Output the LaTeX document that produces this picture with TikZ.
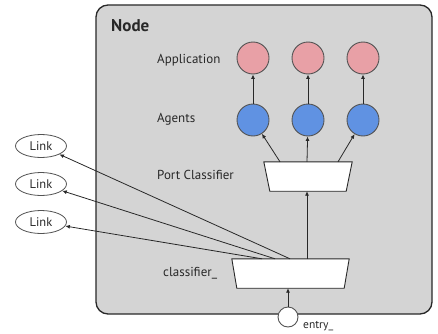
\documentclass[tikz,border=0pt]{standalone}
\usepackage{fontspec}
\setmainfont{PT Sans}
\usetikzlibrary{arrows.meta,shapes.geometric}
\definecolor{panelgray}{RGB}{212,212,212}
\definecolor{appred}{RGB}{232,160,166}
\definecolor{agentblue}{RGB}{96,146,226}
\definecolor{ink}{RGB}{40,40,40}
\tikzset{
  lbl/.style={font=\fontsize{13}{15}\selectfont, text=ink, anchor=west, inner sep=0pt},
  appnode/.style={circle, draw=ink!80, line width=0.9pt, fill=appred, minimum size=32pt, inner sep=0pt},
  agentnode/.style={circle, draw=ink!80, line width=0.9pt, fill=agentblue, minimum size=32pt, inner sep=0pt},
  classframe/.style={rectangle, inner sep=0pt, minimum height=29pt},
  classshape/.style={draw=ink, line width=0.9pt, fill=white},
  linknode/.style={ellipse, draw=ink!80, line width=0.8pt, fill=white, minimum width=51pt, minimum height=23pt, inner sep=0pt, font=\fontsize{12.5}{14}\selectfont, text=ink},
  conn/.style={draw=ink, line width=0.8pt, -{Latex[length=4.5pt,width=4pt]}}
}
\begin{document}
\begin{tikzpicture}[x=1pt,y=1pt]
\useasboundingbox (0,0) rectangle (438,333);
% node enclosure
\node[draw=ink, line width=1.3pt, fill=panelgray, rounded corners=12pt, minimum width=336pt, minimum height=309pt, inner sep=0pt] (panel) at (264,173.5) {};
\node[lbl, font=\bfseries\fontsize{17}{19}\selectfont] (title) at (111,307) {Node};

% row labels
\node[lbl] (lapp) at (157,273) {Application};
\node[lbl] (lagt) at (157,214) {Agents};
\node[lbl] (lport) at (157,158) {Port Classifier};
\node[lbl] (lcls) at (163,60) {classifier\_};

% applications and agents
\foreach \i/\x in {1/253,2/308,3/363}{
  \node[appnode] (app\i) at (\x,275) {};
  \node[agentnode] (agt\i) at (\x,213) {};
  \draw[conn] (agt\i) -- (app\i);
}

% classifiers: wide side up
\node[classframe, minimum width=88pt] (pc) at (308,156.5) {};
\draw[classshape] (pc.north west) -- (pc.north east) -- ([xshift=-6pt]pc.south east) -- ([xshift=6pt]pc.south west) -- cycle;
\node[classframe, minimum width=117pt] (cls) at (290.5,59.5) {};
\draw[classshape] (cls.north west) -- (cls.north east) -- ([xshift=-5pt]cls.south east) -- ([xshift=5pt]cls.south west) -- cycle;

% entry point
\node[circle, draw=ink!80, line width=0.9pt, fill=white, minimum size=20pt, inner sep=0pt] (entry) at (288,16) {};
\node[lbl, font=\fontsize{11.5}{13}\selectfont] (lentry) at (303,7) {entry\_};

% links
\node[linknode] (link1) at (41,187) {Link};
\node[linknode] (link2) at (41,149) {Link};
\node[linknode] (link3) at (41,111) {Link};

% connectors
\coordinate (clsout) at ([xshift=16.5pt]cls.north);
\draw[conn] (entry) -- ([xshift=-2.5pt]cls.south);
\draw[conn] (clsout) -- (clsout |- pc.south);
\draw[conn] ([xshift=-28pt]pc.north) -- (agt1);
\draw[conn] ([xshift=-1pt]pc.north) -- (agt2);
\draw[conn] ([xshift=30pt]pc.north) -- (agt3);
\draw[conn] ([xshift=-0.5pt]cls.north) -- (link1);
\draw[conn] ([xshift=-15.5pt]cls.north) -- (link2);
\draw[conn] ([xshift=-28.5pt]cls.north) -- (link3);
\end{tikzpicture}
\end{document}
